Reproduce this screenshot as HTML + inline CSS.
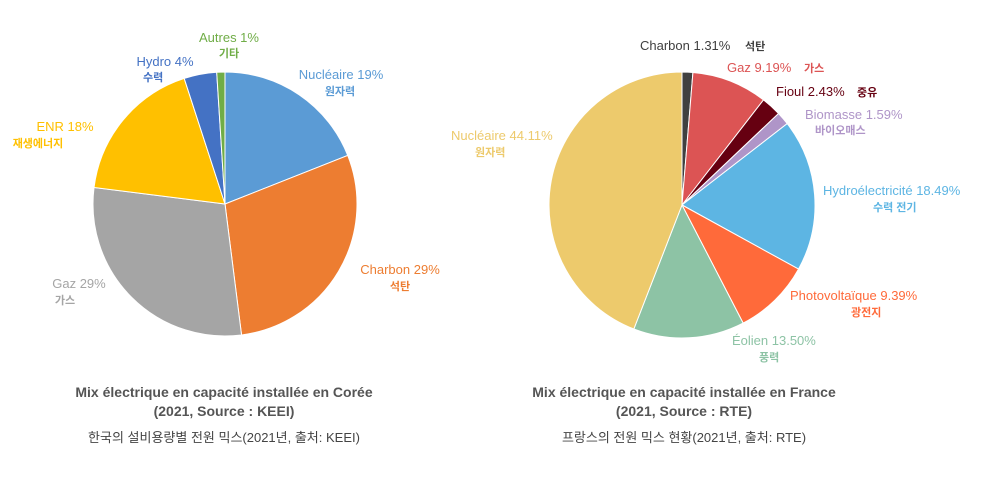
<!DOCTYPE html>
<html><head><meta charset="utf-8">
<style>
body{margin:0;width:983px;height:483px;background:#fff;font-family:"Liberation Sans","Noto Sans CJK KR",sans-serif;overflow:hidden}
svg{position:absolute;left:0;top:0}
text{font-family:"Liberation Sans","Noto Sans CJK KR",sans-serif}
.l{font-size:13px}.k{font-size:11px;font-weight:bold}
.t{font-size:14px;font-weight:bold;fill:#555}.s{font-size:13px;fill:#444}
</style></head><body>
<svg id="c" width="983" height="483">
<g id="p1"></g>
<g id="p2"></g>
<g text-anchor="middle">
<text class="l" x="229" y="42" fill="#70AD47">Autres 1%</text><text class="k" x="229" y="57" fill="#70AD47">기타</text>
<text class="l" x="165" y="66" fill="#4472C4">Hydro 4%</text><text class="k" x="143" y="81" fill="#4472C4" text-anchor="start">수력</text>
<text class="l" x="341" y="79" fill="#5B9BD5">Nucléaire 19%</text><text class="k" x="340" y="95" fill="#5B9BD5">원자력</text>
<text class="l" x="65" y="131" fill="#FFC000">ENR 18%</text><text class="k" x="38" y="147" fill="#FFC000">재생에너지</text>
<text class="l" x="400" y="274" fill="#ED7D31">Charbon 29%</text><text class="k" x="400" y="290" fill="#ED7D31">석탄</text>
<text class="l" x="79" y="288" fill="#A5A5A5">Gaz 29%</text><text class="k" x="65" y="304" fill="#A5A5A5">가스</text>
</g>
<g>
<text class="l" x="640" y="50" fill="#404040">Charbon 1.31%</text><text class="k" x="745" y="50" fill="#404040">석탄</text>
<text class="l" x="727" y="72" fill="#DC5454">Gaz 9.19%</text><text class="k" x="804" y="72" fill="#DC5454">가스</text>
<text class="l" x="776" y="96" fill="#660011">Fioul 2.43%</text><text class="k" x="857" y="96" fill="#660011">중유</text>
<text class="l" x="805" y="119" fill="#AF95C8">Biomasse 1.59%</text><text class="k" x="815" y="134" fill="#AF95C8">바이오매스</text>
<text class="l" x="823" y="195" fill="#5DB5E3">Hydroélectricité 18.49%</text><text class="k" x="873" y="211" fill="#5DB5E3">수력 전기</text>
<text class="l" x="790" y="300" fill="#FF6A3A">Photovoltaïque 9.39%</text><text class="k" x="851" y="316" fill="#FF6A3A">광전지</text>
<text class="l" x="732" y="345" fill="#8DC3A5">Éolien 13.50%</text><text class="k" x="759" y="361" fill="#8DC3A5">풍력</text>
<text class="l" x="451" y="140" fill="#EDCA6C">Nucléaire 44.11%</text><text class="k" x="475" y="156" fill="#EDCA6C">원자력</text>
</g>
<g text-anchor="middle">
<text class="t" x="224" y="397">Mix électrique en capacité installée en Corée</text>
<text class="t" x="224" y="416">(2021, Source : KEEI)</text>
<text class="s" x="224" y="442">한국의 설비용량별 전원 믹스(2021년, 출처: KEEI)</text>
<text class="t" x="684" y="397">Mix électrique en capacité installée en France</text>
<text class="t" x="684" y="416">(2021, Source : RTE)</text>
<text class="s" x="684" y="442">프랑스의 전원 믹스 현황(2021년, 출처: RTE)</text>
</g>
</svg>
<script>
const koreaCategories=["Nucléaire","Charbon","Gaz","ENR","Hydro","Autres"];
const koreaValues=[19,29,29,18,4,1];
const koreaColors=["#5B9BD5","#ED7D31","#A5A5A5","#FFC000","#4472C4","#70AD47"];
const franceCategories=["Charbon","Gaz","Fioul","Biomasse","Hydroélectricité","Photovoltaïque","Éolien","Nucléaire"];
const franceValues=[1.31,9.19,2.43,1.59,18.49,9.39,13.50,44.11];
const franceColors=["#404040","#DC5454","#660011","#AF95C8","#5DB5E3","#FF6A3A","#8DC3A5","#EDCA6C"];
function drawPie(gid,cats,vals,cols,cx,cy,r){
  const g=document.getElementById(gid);
  const tot=vals.reduce((a,b)=>a+b,0);
  let a=0;
  vals.forEach((v,i)=>{
    const a0=a/tot*2*Math.PI,a1=(a+v)/tot*2*Math.PI;a+=v;
    const x0=cx+r*Math.sin(a0),y0=cy-r*Math.cos(a0),x1=cx+r*Math.sin(a1),y1=cy-r*Math.cos(a1);
    const p=document.createElementNS("http://www.w3.org/2000/svg","path");
    p.setAttribute("d",`M${cx},${cy}L${x0},${y0}A${r},${r} 0 ${a1-a0>Math.PI?1:0} 1 ${x1},${y1}Z`);
    p.setAttribute("fill",cols[i]);p.setAttribute("stroke","#fff");p.setAttribute("stroke-width","1");
    
    
    g.appendChild(p);
  });
}
drawPie("p1",koreaCategories,koreaValues,koreaColors,225,204,132);
drawPie("p2",franceCategories,franceValues,franceColors,682,205,133);
</script>
</body></html>
